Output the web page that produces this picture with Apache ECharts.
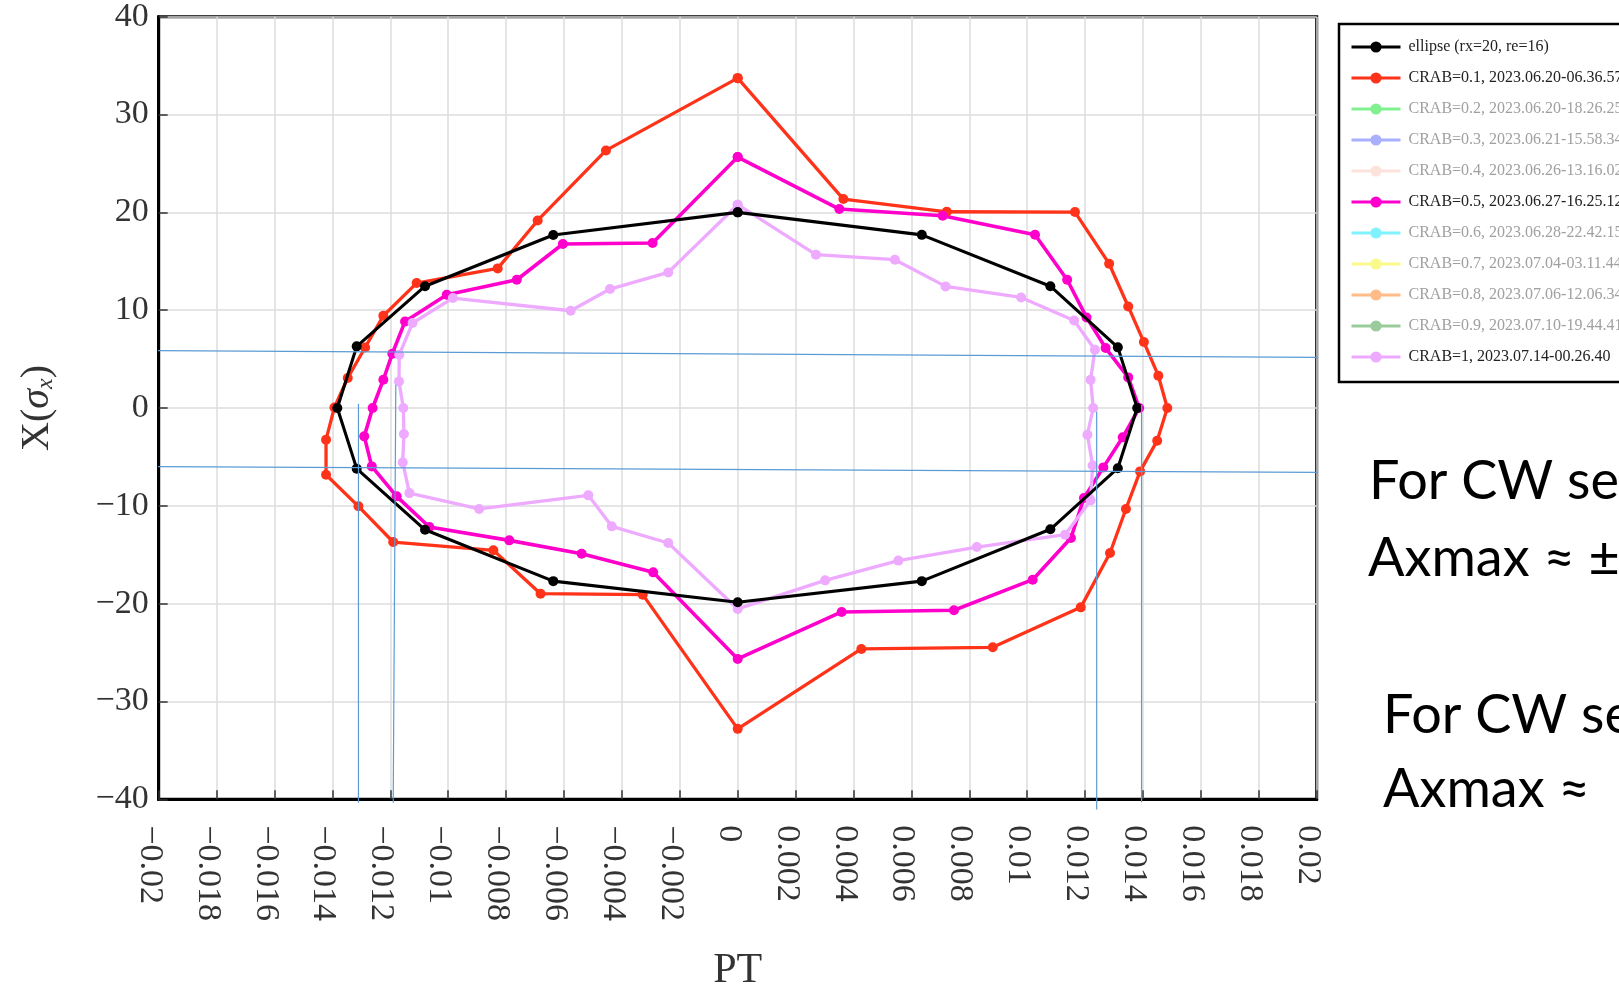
<!DOCTYPE html>
<html><head><meta charset="utf-8">
<script src="https://cdn.jsdelivr.net/npm/echarts@6/dist/echarts.min.js"></script>
<style>html,body{margin:0;padding:0;background:#fff}#c{width:1619px;height:986px}</style>
</head><body><div id="c"></div>
<script>
// ---------------- data ----------------
const seriesNames = [
  'ellipse (rx=20, re=16)',
  'CRAB=0.1, 2023.06.20-06.36.57',
  'CRAB=0.2, 2023.06.20-18.26.25',
  'CRAB=0.3, 2023.06.21-15.58.34',
  'CRAB=0.4, 2023.06.26-13.16.02',
  'CRAB=0.5, 2023.06.27-16.25.12',
  'CRAB=0.6, 2023.06.28-22.42.15',
  'CRAB=0.7, 2023.07.04-03.11.44',
  'CRAB=0.8, 2023.07.06-12.06.34',
  'CRAB=0.9, 2023.07.10-19.44.41',
  'CRAB=1, 2023.07.14-00.26.40'
];
const seriesActive = [true, true, false, false, false, true, false, false, false, false, true];

const ellipseX = [0, 0.00636, 0.0108, 0.01313, 0.0138, 0.01313, 0.0108, 0.00636, 0, -0.00637, -0.0108, -0.01316, -0.01383, -0.01316, -0.0108, -0.00637, 0];
const ellipseY = [20, 17.7, 12.45, 6.2, 0, -6.15, -12.4, -17.7, -19.85, -17.7, -12.45, -6.2, 0, 6.3, 12.45, 17.68, 20];

const crab01X = [0, 0.00365, 0.00722, 0.01165, 0.01283, 0.01349, 0.01403, 0.01453, 0.01484, 0.01449, 0.0139, 0.01341, 0.01286, 0.01185, 0.00881, 0.00427, 0, -0.00328, -0.00681, -0.00844, -0.0119, -0.0131, -0.01422, -0.01422, -0.01393, -0.01347, -0.01287, -0.01224, -0.01109, -0.00829, -0.00691, -0.00455, 0];
const crab01Y = [33.72, 21.36, 20.06, 20.03, 14.75, 10.38, 6.74, 3.3, 0, -3.34, -6.48, -10.32, -14.82, -20.38, -24.46, -24.63, -32.8, -19.08, -18.98, -14.55, -13.7, -10.05, -6.82, -3.24, 0.06, 3.07, 6.19, 9.43, 12.77, 14.27, 19.17, 26.33, 33.72];

const crab05X = [0, 0.00351, 0.00708, 0.01027, 0.01138, 0.01205, 0.01271, 0.01349, 0.01387, 0.0133, 0.01263, 0.01196, 0.01151, 0.01019, 0.00747, 0.00359, 0, -0.00292, -0.00539, -0.00789, -0.01065, -0.01178, -0.01264, -0.0129, -0.01261, -0.01224, -0.01193, -0.01149, -0.01005, -0.00763, -0.00604, -0.00294, 0];
const crab05Y = [25.65, 20.34, 19.65, 17.71, 13.11, 9.26, 6.13, 3.13, 0, -3.0, -6.07, -9.2, -13.29, -17.55, -20.68, -20.85, -25.65, -16.8, -14.89, -13.53, -12.16, -9.03, -5.97, -2.9, 0, 2.89, 5.55, 8.85, 11.58, 13.11, 16.76, 16.86, 25.65];

const crab1X = [0, 0.0027, 0.00543, 0.00718, 0.00979, 0.01162, 0.01234, 0.01219, 0.01228, 0.01208, 0.01226, 0.01219, 0.01131, 0.00826, 0.00555, 0.00302, 0, -0.0024, -0.00435, -0.00516, -0.00893, -0.01134, -0.01157, -0.01153, -0.01155, -0.0117, -0.01169, -0.01123, -0.00984, -0.00577, -0.00441, -0.0024, 0];
const crab1Y = [20.78, 15.67, 15.16, 12.43, 11.3, 8.95, 5.96, 2.89, 0, -2.73, -5.87, -9.44, -12.95, -14.21, -15.6, -17.62, -20.54, -13.8, -12.1, -8.93, -10.32, -8.7, -5.56, -2.66, 0, 2.72, 5.45, 8.69, 11.24, 9.94, 12.16, 13.86, 20.78];

// hand-drawn blue guide lines (data coordinates: start / end)
const guideStartX = [-0.02013, -0.02013, -0.0131, -0.01181, 0.0124, 0.01395];
const guideStartY = [5.86, -6.0, 0.44, 2.38, -0.38, 0.3];
const guideEndX   = [0.02004, 0.02004, -0.0131, -0.0119, 0.0124, 0.01395];
const guideEndY   = [5.17, -6.58, -40.34, -40.34, -41.05, -40.3];

const noteLines = ['For CW se', 'Axmax \u2248 \u00b1', 'For CW se', 'Axmax \u2248'];

// ---------------- styles ----------------
const seriesColors = ['#000000', '#ff3319', '#80f090', '#a8b0ff', '#fde2dc', '#ff00cc', '#80f2ff', '#fafa8a', '#ffbb88', '#9acb9a', '#eeaaff'];
const seriesWidths = [3.1, 3.3, 3, 3, 3, 3.6, 3, 3, 3, 3, 3.3];

const zip = (xs, ys) => xs.map((x, i) => [x, ys[i]]);
const seriesData = [
  zip(ellipseX, ellipseY), zip(crab01X, crab01Y), [], [], [], zip(crab05X, crab05Y), [], [], [], [], zip(crab1X, crab1Y)
];

const fmt = v => String(parseFloat(Number(v).toFixed(6))).replace('-', '\u2212');
const SERIF = '"Liberation Serif", "Times New Roman", serif';

const series = seriesNames.map((n, i) => ({
  name: n, type: 'line', data: seriesData[i],
  symbol: 'circle', symbolSize: 10, showAllSymbol: true,
  lineStyle: { color: seriesColors[i], width: seriesWidths[i] },
  itemStyle: { color: seriesColors[i] },
  z: i === 0 ? 4 : 3, clip: false
}));
guideStartX.forEach((x, i) => {
  series.push({
    type: 'line', name: 'guide' + i, data: [[x, guideStartY[i]], [guideEndX[i], guideEndY[i]]],
    symbol: 'none', silent: true, clip: false, z: 6,
    lineStyle: { color: '#5b9bd5', width: 1.2 }
  });
});

const noteY = [482, 559, 716, 790];
const noteX = [1369, 1368, 1383, 1383];

const chart = echarts.init(document.getElementById('c'), null, { renderer: 'canvas' });
chart.setOption({
  animation: false,
  backgroundColor: '#fff',
  grid: { left: 158.7, top: 16.7, right: 302.3, bottom: 186.7, show: true, borderColor: '#000', borderWidth: 3, containLabel: false, outerBoundsMode: 'none' },
  xAxis: {
    type: 'value', min: -0.02, max: 0.02, interval: 0.002,
    name: 'PT', nameLocation: 'middle', nameGap: 151, nameMoveOverlap: false,
    nameTextStyle: { fontFamily: SERIF, fontSize: 42, color: '#333' },
    axisLine: { show: true, onZero: false, lineStyle: { color: '#000', width: 3 } },
    axisTick: { show: true, inside: true, length: 9, lineStyle: { color: '#333', width: 1.5 } },
    splitLine: { show: true, lineStyle: { color: '#dcdcdc', width: 1.5 } },
    axisLabel: { rotate: -90, margin: 26, fontFamily: SERIF, fontSize: 34, color: '#333', formatter: fmt, showMinLabel: true, showMaxLabel: true, verticalAlign: 'top', lineHeight: 18 }
  },
  yAxis: {
    type: 'value', min: -40, max: 40, interval: 10,
    name: '{a|X(}{b|\u03c3}{c|x}{a|)}', nameLocation: 'middle', nameRotate: 90, nameGap: 101, nameMoveOverlap: false,
    nameTextStyle: {
      fontFamily: SERIF, fontSize: 40, color: '#333',
      rich: {
        a: { fontFamily: SERIF, fontSize: 40, color: '#333' },
        b: { fontFamily: SERIF, fontSize: 40, fontStyle: 'italic', color: '#333' },
        c: { fontFamily: SERIF, fontSize: 24, fontStyle: 'italic', color: '#333', verticalAlign: 'bottom', lineHeight: 30 }
      }
    },
    axisLine: { show: true, onZero: false, lineStyle: { color: '#000', width: 3 } },
    axisTick: { show: true, inside: true, length: 9, lineStyle: { color: '#333', width: 1.5 } },
    splitLine: { show: true, lineStyle: { color: '#dcdcdc', width: 1.5 } },
    axisLabel: { margin: 10, fontFamily: SERIF, fontSize: 34, color: '#333', formatter: fmt, showMinLabel: true, showMaxLabel: true }
  },
  legend: {
    orient: 'vertical', left: 1339, top: 24,
    backgroundColor: '#fff', borderColor: '#000', borderWidth: 2.5, borderRadius: 0,
    padding: [15, 10, 17, 11],
    itemWidth: 49, itemHeight: 14, itemGap: 15,
    selectedMode: false,
    lineStyle: { width: 3 },
    textStyle: { fontFamily: SERIF, fontSize: 16, lineHeight: 16, color: '#222', padding: [0, 0, 0, 3] },
    data: seriesNames.map((n, i) => ({ name: n, textStyle: { color: seriesActive[i] ? '#222' : '#a0a0a0' } }))
  },
  graphic: noteLines.map((t, i) => ({
    type: 'text', x: noteX[i], y: noteY[i], silent: true,
    style: { text: t, font: '54px Lato', fill: '#000', verticalAlign: 'middle', align: 'left' }
  })),
  series: series
});
</script>
</body></html>
